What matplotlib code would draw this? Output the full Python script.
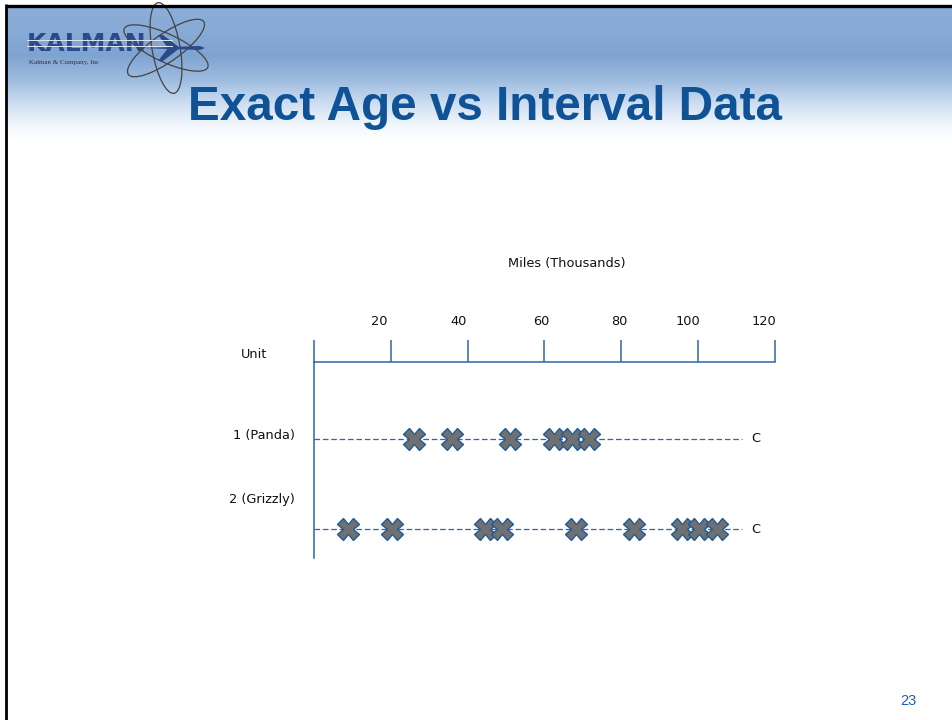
#!/usr/bin/env python3
"""
Slide: exact failure ages vs interval data, two units on a miles axis.
"""

import numpy as np
import matplotlib
matplotlib.use("Agg")
import matplotlib.pyplot as plt
from matplotlib.patches import Ellipse, Polygon
from matplotlib.transforms import ScaledTranslation

# data (miles, thousands)
units = ["1 (Panda)", "2 (Grizzly)"]
panda_failures = [26.1, 35.9, 51.0, 62.5, 67.1, 71.7]
grizzly_failures = [8.9, 20.4, 44.4, 48.9, 68.2, 83.4, 95.7, 100.3, 105.0]
censor_at = [111.4, 111.4]
tick_values = [0, 20, 40, 60, 80, 100, 120]
tick_labels = ["", "20", "40", "60", "80", "100", "120"]

BLUE = "#2E66A8"
TITLE_BLUE = "#0F5296"
W, H = 953, 720

fig = plt.figure(figsize=(W / 100, H / 100), dpi=100)

# background / decoration layer in pixel coords
bg = fig.add_axes([0, 0, 1, 1])
bg.set_xlim(0, W)
bg.set_ylim(H, 0)
bg.axis("off")

# header gradient
stops_y = [7, 30, 55, 80, 105, 125, 140]
stops_c = np.array([
    [0.55, 0.68, 0.85],
    [0.53, 0.67, 0.84],
    [0.50, 0.64, 0.82],
    [0.62, 0.74, 0.88],
    [0.82, 0.88, 0.95],
    [0.95, 0.97, 0.99],
    [1.00, 1.00, 1.00],
])
ys = np.arange(7, 141)
grad = np.stack([np.interp(ys, stops_y, stops_c[:, k]) for k in range(3)], axis=-1)
grad = np.repeat(grad[:, None, :], 2, axis=1)
bg.imshow(grad, extent=[7, W, 141, 7], aspect="auto", zorder=0, interpolation="bilinear")

# slide frame (top and left edges)
bg.plot([6, W], [5.5, 5.5], color="black", lw=2.4, solid_capstyle="butt", zorder=5)
bg.plot([6, 6], [4, H], color="black", lw=2.0, solid_capstyle="butt", zorder=5)

# logo
bg.text(27, 51, "KALMAN", fontsize=18, fontweight="heavy",
        color="#2B4A8A", family="DejaVu Sans", ha="left", va="baseline", zorder=3)
for yy in (40, 46):
    bg.plot([27, 172], [yy, yy], color="#dfe6f2", lw=0.7, zorder=4)
bg.text(29, 64, "Kalman & Company, Inc", fontsize=5, family="Liberation Serif",
        color="#333333", ha="left", va="baseline", zorder=3)
for ang in (25, -35, 80):
    bg.add_patch(Ellipse((166, 48), 92, 28, angle=ang, fill=False,
                         ec="#444444", lw=0.9, zorder=3))
bg.add_patch(Polygon([[140, 48], [200, 46], [205, 48], [200, 50]],
                     closed=True, fc="#2B4A8A", ec="none", zorder=3))
bg.add_patch(Polygon([[168, 48], [158, 35], [163, 35], [180, 48], [163, 61], [158, 61]],
                     closed=True, fc="#2B4A8A", ec="none", zorder=3))

# title
bg.text(485, 107, "Exact Age vs Interval Data", fontsize=34.3, fontweight="bold",
        color=TITLE_BLUE, family="Liberation Sans",
        ha="center", va="center", zorder=4)

# page number
bg.text(908, 701, "23", fontsize=10.5, color="#1F5FA8", family="Liberation Sans",
        ha="center", va="center")

# chart axes
x0, x1, y0, y1 = 314, 775, 362, 558
ax = fig.add_axes([x0 / W, 1 - y1 / H, (x1 - x0) / W, (y1 - y0) / H])
ax.set_facecolor("none")
ax.set_xlim(0, 120)
ax.set_ylim(2.317, 0.153)

for s in ("right", "bottom"):
    ax.spines[s].set_visible(False)
for s in ("top", "left"):
    ax.spines[s].set_color(BLUE)
    ax.spines[s].set_linewidth(1.1)

ax.xaxis.tick_top()
ax.set_xticks(tick_values)
ax.set_xticklabels(tick_labels)
ax.tick_params(axis="x", direction="out", length=15.8, width=1.1, color=BLUE,
               labelsize=9.3, pad=9, labelcolor="#111111")
# labels on the slide sit a little left of their ticks
label_shift_px = [0, -12, -9, -3, -2, -10, -11]
for lab, dx in zip(ax.get_xticklabels(), label_shift_px):
    lab.set_transform(lab.get_transform() + ScaledTranslation(dx / 100, 0, fig.dpi_scale_trans))
ax.set_yticks([])

# rows
for row, fails in enumerate([panda_failures, grizzly_failures], start=1):
    ax.plot([0, censor_at[row - 1]], [row, row], color=BLUE, lw=0.9,
            dashes=(4.5, 2.2), clip_on=False, zorder=2)
    ax.plot(fails, [row] * len(fails), linestyle="none", marker="X", ms=15.5,
            mfc="#707070", mec="#1F5B9B", mew=1.0, clip_on=False, zorder=3)
    ax.text(censor_at[row - 1] + 3.6, row, "C", fontsize=9.3, ha="center",
            va="center", color="#111111")

# labels
ax.text(567, 264, "Miles (Thousands)", transform=bg.transData, fontsize=9.3,
        ha="center", va="center", color="#111111")
ax.text(254, 354, "Unit", transform=bg.transData, fontsize=9.3,
        ha="center", va="center", color="#111111")
ax.text(295, 436, units[0], transform=bg.transData, fontsize=9.3,
        ha="right", va="center", color="#111111")
ax.text(295, 499, units[1], transform=bg.transData, fontsize=9.3,
        ha="right", va="center", color="#111111")

fig.savefig("out.png", dpi=100)
